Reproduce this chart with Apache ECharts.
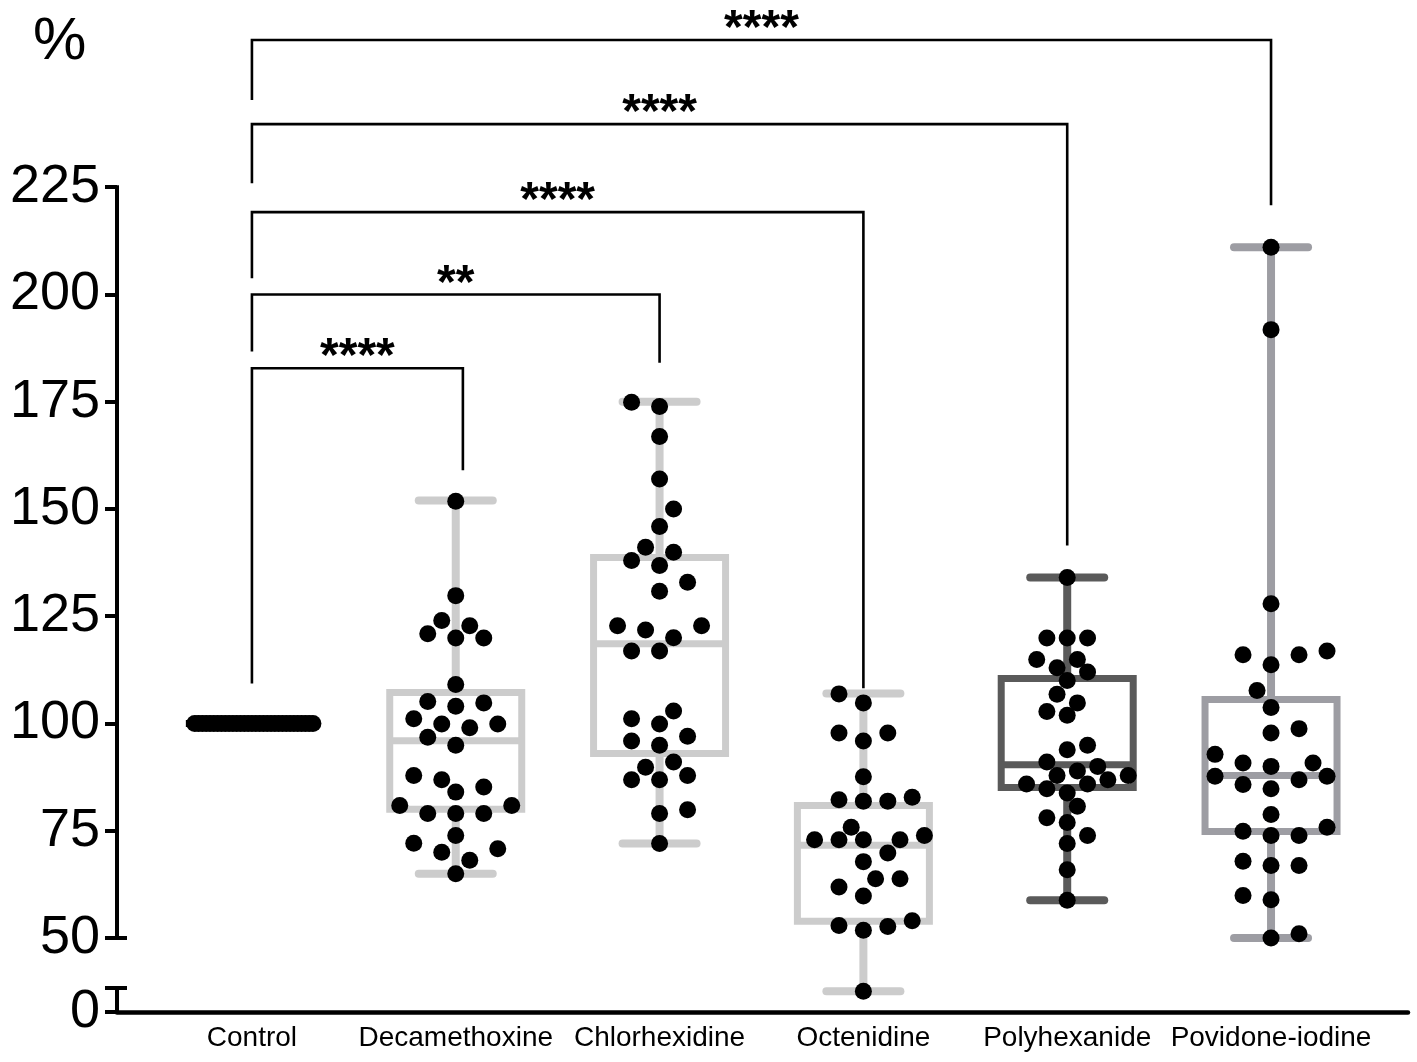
<!DOCTYPE html>
<html><head><meta charset="utf-8">
<script src="https://cdn.jsdelivr.net/npm/echarts@6/dist/echarts.min.js"></script>
<style>html,body{margin:0;padding:0;background:#fff}#c{width:1417px;height:1062px}</style>
</head><body><div id="c"></div>
<script>
const categories = ['Control','Decamethoxine','Chlorhexidine','Octenidine','Polyhexanide','Povidone-iodine'];

const controlValues = [100,100,100,100,100,100,100,100,100,100,100,100,100,100,100,100,100,100,100,100,100,100,100,100,100,100,100,100,100,100,100,100];
const decaValues = [151.8,129.8,122.8,119.9,120.9,124.0,119.9,109.1,104.8,105.1,104.0,99.0,101.1,96.8,99.9,99.9,94.9,86.9,87.9,84.0,85.2,80.9,79.0,80.9,79.0,79.0,73.9,70.0,70.8,72.1,68.1,65.0];
const chlorValues = [174.9,173.9,166.9,157.0,150.0,145.9,139.9,141.1,136.8,138.0,132.9,130.8,122.8,121.8,122.8,120.0,116.9,116.9,102.9,99.9,101.1,97.0,94.9,95.9,89.8,91.0,86.9,87.9,86.9,79.9,79.0,72.0];
const octValues = [106.9,104.8,97.8,95.9,97.8,87.6,81.9,82.8,82.2,81.9,75.8,73.9,72.9,72.9,72.9,72.9,69.8,67.8,63.8,63.8,61.9,59.8,54.0,52.7,52.9,51.8,26];
const polyValues = [134.0,119.9,119.9,119.9,114.9,114.9,112.0,113.0,110.0,106.8,104.8,102.8,101.9,93.9,94.9,91.0,90.0,87.9,88.9,87.9,85.9,85.9,86.9,84.8,83.8,80.7,76.9,78.0,73.9,72.0,65.9,58.8];
const poviValues = [211.0,191.8,127.9,116.0,116.9,116.0,113.7,107.7,103.7,98.8,97.8,92.8,90.0,90.8,90.8,87.7,86.9,87.7,85.8,84.8,78.8,74.9,73.9,75.8,73.9,66.9,67.9,66.9,58.9,59.9,50.0,51.0];

// box stats: [min, Q1, median, Q3, max]
const controlBox = [100,100,100,100,100];
const decaBox = [65,80,96,107.2,152];
const chlorBox = [72,93,118.6,138.7,175];
const octBox = [26,53.9,71.6,80.9,107];
const polyBox = [58.8,85.1,90.4,110.5,134];
const poviBox = [50,74.8,87.9,105.6,211];

const yLabelValues = [0,50,75,100,125,150,175,200,225];
const yTickValues = [0,30,50,75,100,125,150,175,200,225];

// significance brackets (all from Control)
const bracketEndX = [5,4,3,2,1.035];
const bracketTop = [259.3,239.7,219.2,200.0,182.8];
const bracketLeftEnd = [245.3,225.9,203.8,186.7,109.3];
const bracketRightEnd = [220.8,141.5,108.2,184.1,159.0];
const bracketLabels = ['****','****','****','**','****'];

// broken axis mapping: lower segment 0..30 compressed below the 50..225 segment
const AX_MIN = 32.75, LOW_TOP = 30, LOW_TOP_AX = 38.35, BREAK = 50;
function toAxis(v){ return v >= BREAK ? v : AX_MIN + v / LOW_TOP * (LOW_TOP_AX - AX_MIN); }
function fromAxis(a){ return a >= BREAK - 1e-6 ? a : (a - AX_MIN) / (LOW_TOP_AX - AX_MIN) * LOW_TOP; }

const groups = [controlValues, decaValues, chlorValues, octValues, polyValues, poviValues];
const boxes = [controlBox, decaBox, chlorBox, octBox, polyBox, poviBox];
const boxColors = ['#000000','#cccccc','#cccccc','#cccccc','#5a5a5a','#9d9da3'];
const X_MIN = -0.662, X_MAX = 5.672, Y_MAX = 267.0;
const FONT = "'Liberation Sans', Arial, Helvetica, sans-serif";

const chart = echarts.init(document.getElementById('c'), null, {renderer:'canvas'});

function baseOption(scatterSeries){
  return {
    animation:false,
    backgroundColor:'#fff',
    grid:{left:117,right:9,top:7,bottom:50,containLabel:false},
    xAxis:{type:'value',min:X_MIN,max:X_MAX,
      axisLine:{show:true,onZero:false,lineStyle:{color:'#000',width:4.5}},
      axisTick:{show:false},splitLine:{show:false},
      axisLabel:{customValues:[0,1,2,3,4,5],formatter:v=>categories[Math.round(v)],
        color:'#000',fontSize:28,fontFamily:FONT,margin:12}},
    yAxis:{type:'value',min:AX_MIN,max:Y_MAX,
      axisLine:{show:false,onZero:false},splitLine:{show:false},
      axisTick:{show:true,length:12,customValues:yTickValues.map(toAxis),lineStyle:{color:'#000',width:4}},
      axisLabel:{customValues:yLabelValues.map(toAxis),formatter:a=>String(Math.round(fromAxis(a))),
        color:'#000',fontSize:54,fontFamily:FONT,margin:17}},
    graphic:[{type:'text',left:33,top:12,style:{text:'%',fontSize:60,fontFamily:FONT,fill:'#000'}}],
    series:[
      {type:'custom',name:'yAxisLine',z:3,silent:true,data:[[X_MIN,100]],
        renderItem:(p,api)=>{
          const x = api.coord([X_MIN, toAxis(100)])[0];
          const yy = v=>api.coord([X_MIN,toAxis(v)])[1];
          const st = {stroke:'#000',lineWidth:4,lineCap:'butt'};
          return {type:'group',children:[
            {type:'line',shape:{x1:x,y1:yy(50)+2,x2:x,y2:yy(225)-2},style:st},
            {type:'line',shape:{x1:x,y1:yy(0),x2:x,y2:yy(30)-2},style:st},
            {type:'line',shape:{x1:x-2,y1:yy(50),x2:x+10,y2:yy(50)},style:st},
            {type:'line',shape:{x1:x-2,y1:yy(30),x2:x+10,y2:yy(30)},style:st}
          ]};
        }},
      {type:'custom',name:'brackets',z:2,silent:true,
        data:bracketEndX.map((t,i)=>[0,t,bracketTop[i],bracketLeftEnd[i],bracketRightEnd[i],i]),
        encode:{x:[0,1],y:2},
        renderItem:(p,api)=>{
          const a = api.value(0), b = api.value(1), top = api.value(2), le = api.value(3), re = api.value(4);
          const idx = api.value(5);
          const p1 = api.coord([a,le]), p2 = api.coord([a,top]), p3 = api.coord([b,top]), p4 = api.coord([b,re]);
          return {type:'group',children:[
            {type:'polyline',shape:{points:[p1,p2,p3,p4]},style:{stroke:'#000',lineWidth:2.6,fill:null,lineJoin:'miter'}},
            {type:'text',style:{text:bracketLabels[idx],x:(p2[0]+p3[0])/2,y:p2[1]-10,align:'center',verticalAlign:'middle',
              fontSize:48,fontWeight:'bold',fontFamily:FONT,fill:'#000'}}
          ]};
        }},
      {type:'custom',name:'boxes',z:4,silent:true,
        data:boxes.map((b,i)=>[i].concat(b.map(toAxis))),
        encode:{x:0,y:[1,5]},
        renderItem:(p,api)=>{
          const i = api.value(0);
          const v = [1,2,3,4,5].map(k=>api.value(k));
          const cx = api.coord([i,v[2]])[0];
          const y = a=>api.coord([i,a])[1];
          const hw = 66, cw = 37, lw = 7, c = boxColors[i];
          const ls = {stroke:c,lineWidth:lw,lineCap:'butt'};
          const cs = {stroke:c,lineWidth:8,lineCap:'round'};
          return {type:'group',children:[
            {type:'line',shape:{x1:cx,y1:y(v[3]),x2:cx,y2:y(v[4])},style:{stroke:c,lineWidth:8}},
            {type:'line',shape:{x1:cx,y1:y(v[1]),x2:cx,y2:y(v[0])},style:{stroke:c,lineWidth:8}},
            {type:'line',shape:{x1:cx-cw,y1:y(v[4]),x2:cx+cw,y2:y(v[4])},style:cs},
            {type:'line',shape:{x1:cx-cw,y1:y(v[0]),x2:cx+cw,y2:y(v[0])},style:cs},
            {type:'rect',shape:{x:cx-hw,y:y(v[3]),width:2*hw,height:y(v[1])-y(v[3])},style:{fill:'#fff',stroke:c,lineWidth:lw,lineJoin:'miter'}},
            {type:'line',shape:{x1:cx-hw,y1:y(v[2]),x2:cx+hw,y2:y(v[2])},style:ls}
          ]};
        }}
    ].concat(scatterSeries||[])
  };
}

chart.setOption(baseOption([]));

// quantized beeswarm layout, computed in pixel space from the axis scales
function swarm(vals, gi, step, D, maxHalf){
  const pts = vals.map(v=>({v:v, y:chart.convertToPixel({gridIndex:0},[gi,toAxis(v)])[1]}));
  pts.sort((a,b)=>b.y-a.y);
  const placed = [];
  let flip = 1;
  pts.forEach(p=>{
    let x = null;
    for (let k=0; k<200 && x===null; k++){
      const cands = k===0 ? [0] : [flip*k*step, -flip*k*step];
      for (const c of cands){
        if (placed.every(q=>Math.hypot(q.x-c,q.y-p.y)>=D-1e-6)){ x=c; break; }
      }
    }
    if (x!==0) flip = -flip;
    p.x = x; placed.push(p);
  });
  const m = Math.max.apply(null, placed.map(p=>Math.abs(p.x)));
  if (m > maxHalf) placed.forEach(p=>{p.x *= maxHalf/m;});
  return placed;
}
const unitPx = chart.convertToPixel({gridIndex:0},[1,100])[0]-chart.convertToPixel({gridIndex:0},[0,100])[0];
const scatterData = [];
groups.forEach((vals,gi)=>{
  swarm(vals,gi,14,18.5,61).forEach(p=>scatterData.push([gi + p.x/unitPx, toAxis(p.v)]));
});
chart.setOption(baseOption([{type:'scatter',z:6,silent:true,symbol:'circle',symbolSize:17,
  itemStyle:{color:'#000',borderWidth:0,opacity:1},data:scatterData}]));
</script></body></html>
